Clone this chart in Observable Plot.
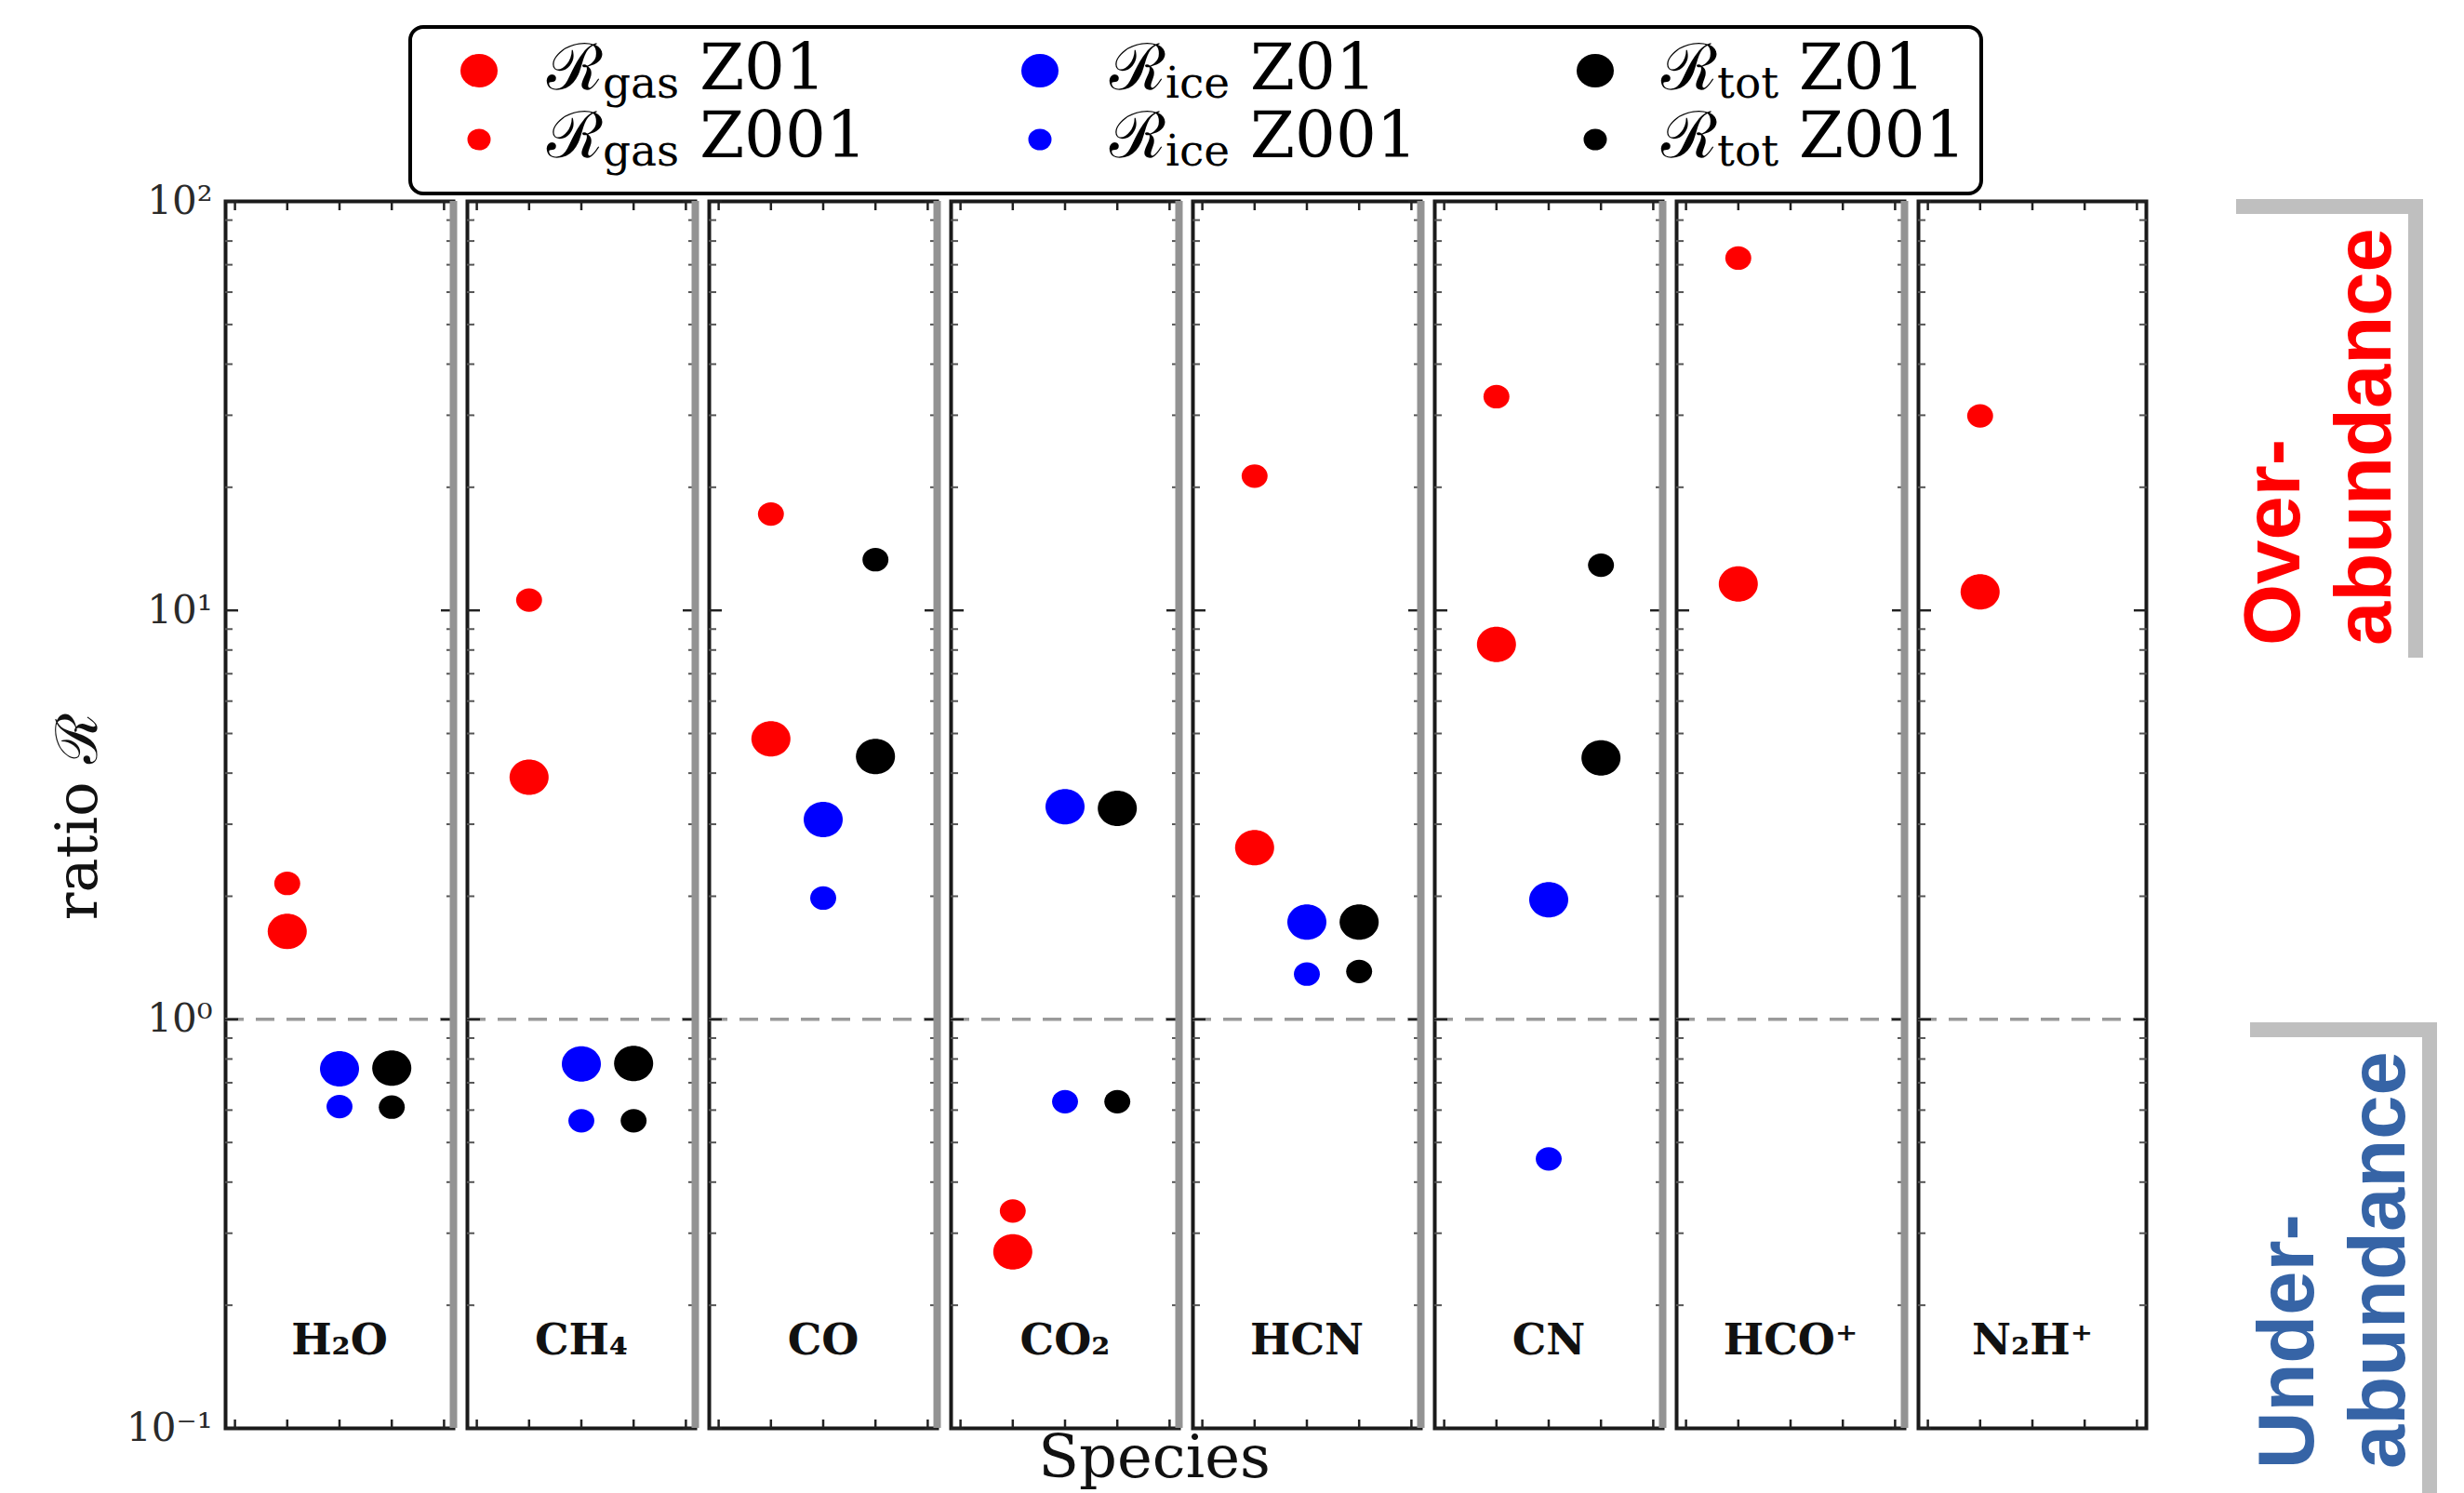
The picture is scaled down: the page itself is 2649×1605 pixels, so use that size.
<!DOCTYPE html>
<html>
<head>
<meta charset="utf-8">
<script src="https://cdn.jsdelivr.net/npm/d3@7"></script>
<script src="https://cdn.jsdelivr.net/npm/@observablehq/plot@0.6"></script>
<style>
  body { margin: 0; background: #fff; }
  #wrap { position: relative; width: 2649px; height: 1605px; overflow: hidden; }
  #wrap svg.overlay { position: absolute; left: 0; top: 0; pointer-events: none; }
</style>
</head>
<body>
<div id="wrap"></div>
<script>
// ---------- data ----------
const species = ["H₂O", "CH₄", "CO", "CO₂", "HCN", "CN", "HCO⁺", "N₂H⁺"];
const quantities = ["gas", "ice", "tot"];
const quantityX = [1, 2, 3];
const quantityColors = ["#ff0000", "#0000ff", "#000000"];
const runs = ["Z01", "Z001"];

const gasZ01  = [1.64, 3.91, 4.85, 0.270, 2.63, 8.26, 11.6, 11.1];
const gasZ001 = [2.15, 10.6, 17.2, 0.340, 21.3, 33.3, 72.7, 29.9];
const iceZ01  = [0.757, 0.778, 3.08, 3.31, 1.73, 1.96, null, null];
const iceZ001 = [0.612, 0.565, 1.98, 0.629, 1.29, 0.456, null, null];
const totZ01  = [0.76, 0.78, 4.39, 3.28, 1.73, 4.36, null, null];
const totZ001 = [0.61, 0.565, 13.3, 0.629, 1.31, 12.9, null, null];

const yMajor = [0.1, 1, 10, 100];
const yTickLabels = ["10⁻¹", "10⁰", "10¹", "10²"];
const yMinor = [0.2, 0.3, 0.4, 0.5, 0.6, 0.7, 0.8, 0.9,
                2, 3, 4, 5, 6, 7, 8, 9,
                20, 30, 40, 50, 60, 70, 80, 90];
const xTicks = [0, 1, 2, 3, 4];
const xDomain = [-0.18, 4.18];

// ---------- table ----------
const series = {
  gas: {Z01: gasZ01, Z001: gasZ001},
  ice: {Z01: iceZ01, Z001: iceZ001},
  tot: {Z01: totZ01, Z001: totZ001}
};
const rows = [];
species.forEach((s, i) => {
  quantities.forEach((q, j) => {
    runs.forEach(run => {
      const v = series[q][run][i];
      if (v != null) rows.push({species: s, quantity: q, x: quantityX[j], run, value: v});
    });
  });
});

// slightly elliptical marker (the original figure is a little stretched horizontally)
const ellipse = {
  draw(context, size) {
    const r = Math.sqrt(size / Math.PI);
    const rx = r * 1.05, ry = r * 0.95, k = 0.5523;
    context.moveTo(rx, 0);
    context.bezierCurveTo(rx, ry * k, rx * k, ry, 0, ry);
    context.bezierCurveTo(-rx * k, ry, -rx, ry * k, -rx, 0);
    context.bezierCurveTo(-rx, -ry * k, -rx * k, -ry, 0, -ry);
    context.bezierCurveTo(rx * k, -ry, rx, -ry * k, rx, 0);
    context.closePath();
  }
};

const blank = () => "";

const chart = Plot.plot({
  width: 2649,
  height: 1605,
  marginLeft: 242,
  marginRight: 341,
  marginTop: 216,
  marginBottom: 70,
  style: {background: "transparent", fontFamily: "'DejaVu Serif', serif", color: "#222"},
  fx: {domain: species, paddingInner: 0.056, paddingOuter: 0, axis: null, label: null},
  x: {domain: xDomain, axis: null},
  y: {type: "log", domain: [0.1, 100], axis: null},
  color: {domain: quantities, range: quantityColors},
  marks: [
    Plot.frame({stroke: "#1a1a1a", strokeWidth: 4}),
    Plot.ruleY([1], {stroke: "#9a9a9a", strokeWidth: 3.5, strokeDasharray: "20,13"}),
    // inward y ticks on both sides of every panel
    Plot.axisY({ticks: yMajor, anchor: "left", facetAnchor: null, tickSize: -14, tickFormat: blank, label: null, stroke: "#222", strokeWidth: 2.5}),
    Plot.axisY({ticks: yMajor, anchor: "right", facetAnchor: null, tickSize: -14, tickFormat: blank, label: null, stroke: "#222", strokeWidth: 2.5}),
    Plot.axisY({ticks: yMinor, anchor: "left", facetAnchor: null, tickSize: -8, tickFormat: blank, label: null, stroke: "#555", strokeWidth: 2}),
    Plot.axisY({ticks: yMinor, anchor: "right", facetAnchor: null, tickSize: -8, tickFormat: blank, label: null, stroke: "#555", strokeWidth: 2}),
    // inward x ticks top and bottom
    Plot.axisX({ticks: xTicks, anchor: "bottom", facetAnchor: null, tickSize: -9, tickFormat: blank, label: null, stroke: "#222", strokeWidth: 2.5}),
    Plot.axisX({ticks: xTicks, anchor: "top", facetAnchor: null, tickSize: -9, tickFormat: blank, label: null, stroke: "#222", strokeWidth: 2.5}),
    // tick labels (left panel only)
    Plot.axisY({ticks: yMajor, anchor: "left", tickSize: 0, tickPadding: 14,
      tickFormat: d => yTickLabels[yMajor.indexOf(d)], label: null, fontSize: 42, fill: "#2a2a2a"}),
    // gray separator band on the right edge of every panel but the last
    Plot.ruleX(species.slice(0, -1), {fx: d => d, x: () => xDomain[1], stroke: "#939393", strokeWidth: 8}),
    // data
    Plot.dot(rows.filter(d => d.run === "Z01"), {fx: "species", x: "x", y: "value", fill: "quantity", symbol: ellipse, r: 20}),
    Plot.dot(rows.filter(d => d.run === "Z001"), {fx: "species", x: "x", y: "value", fill: "quantity", symbol: ellipse, r: 13.3}),
    // species names inside panels
    Plot.text(species, {fx: d => d, text: d => d, frameAnchor: "bottom", dy: -80,
      fontWeight: "bold", fontSize: 46, fill: "#111"})
  ]
});

const wrap = document.getElementById("wrap");
wrap.appendChild(chart);

// ---------- overlay: legend, axis titles, annotations ----------
const legendCols = [515, 1118, 1715];
const legendTextX = [588, 1193, 1786];
const legendRowsY = [76, 150];
const legendBase = [96, 169];
let legend = `<rect x="441" y="29" width="1689" height="179" rx="14" ry="14" fill="#fff" stroke="#000" stroke-width="4"/>`;
quantities.forEach((q, j) => {
  runs.forEach((run, k) => {
    const rx = k === 0 ? 20 : 12.5, ry = k === 0 ? 18 : 11.5;
    legend += `<ellipse cx="${legendCols[j]}" cy="${legendRowsY[k]}" rx="${rx}" ry="${ry}" fill="${quantityColors[j]}"/>`;
    legend += `<text x="${legendTextX[j]}" y="${legendBase[k]}" font-size="69" fill="#000">ℛ<tspan font-size="47" dy="9">${q}</tspan><tspan font-size="69" dy="-9"> ${run}</tspan></text>`;
  });
});

const overlay = `
<svg class="overlay" width="2649" height="1605" xmlns="http://www.w3.org/2000/svg" font-family="'DejaVu Serif', serif">
  ${legend}
  <text transform="translate(104,878) rotate(-90)" text-anchor="middle" font-size="62" fill="#111">ratio ℛ</text>
  <text x="1241" y="1588" text-anchor="middle" font-size="64" fill="#111">Species</text>
  <g fill="#bfbfbf">
    <rect x="2404" y="214" width="201" height="16"/>
    <rect x="2589" y="214" width="16" height="493"/>
    <rect x="2419" y="1099" width="201" height="16"/>
    <rect x="2604" y="1099" width="16" height="506"/>
  </g>
  <g font-family="'Liberation Sans', Arial, sans-serif" font-weight="bold" font-size="85">
    <text transform="translate(2472,694) rotate(-90)" fill="#ff0000">Over-</text>
    <text transform="translate(2570,694) rotate(-90)" fill="#ff0000">abundance</text>
    <text transform="translate(2487,1579) rotate(-90)" fill="#3664a6">Under-</text>
    <text transform="translate(2585,1579) rotate(-90)" fill="#3664a6">abundance</text>
  </g>
</svg>`;
wrap.insertAdjacentHTML("beforeend", overlay);
</script>
</body>
</html>
